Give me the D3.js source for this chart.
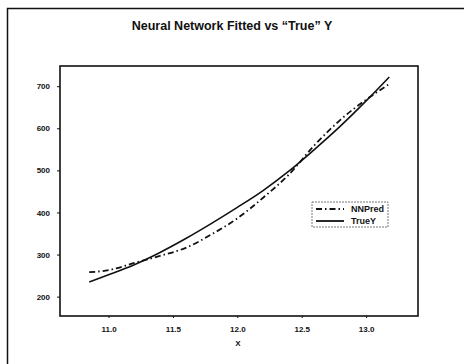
<!DOCTYPE html>
<html>
<head>
<meta charset="utf-8">
<script src="https://cdn.jsdelivr.net/npm/d3@7"></script>
<style>
  html, body { margin: 0; padding: 0; background: #fff; }
  svg { display: block; font-family: Arial, "Liberation Sans", sans-serif; }
</style>
</head>
<body>
<svg id="chart" width="464" height="364"></svg>
<script>
// Input values along the X axis
const xValues   = [10.85, 11.0, 11.2, 11.4, 11.6, 11.8, 12.0, 12.2, 12.4, 12.6, 12.8, 13.0, 13.18];
// Network prediction and the true response at each X
const nnPred    = [258, 263, 280, 297, 316, 348, 386, 435, 490, 560, 620, 668, 705];
const trueY     = [235, 252, 276, 305, 338, 374, 412, 452, 498, 550, 605, 665, 722];
// Axis tick values
const xTicks    = [11.0, 11.5, 12.0, 12.5, 13.0];
const yTicks    = [200, 300, 400, 500, 600, 700];
const seriesNames = ["NNPred", "TrueY"];

const svg = d3.select("#chart");
const plot = { left: 60, top: 66, right: 418, bottom: 316 };

const x = d3.scaleLinear().domain([10.623, 13.403]).range([plot.left, plot.right]);
const y = d3.scaleLinear().domain([154, 748]).range([plot.bottom, plot.top]);

// Outer page frame (top and left edges)
svg.append("path")
  .attr("d", "M7.5,364 V8.5 H464")
  .attr("fill", "none").attr("stroke", "#111").attr("stroke-width", 1.5);

// Title
svg.append("text")
  .attr("x", 232).attr("y", 30)
  .attr("text-anchor", "middle")
  .attr("font-size", 12.5)
  .attr("font-weight", "bold")
  .attr("fill", "#111")
  .text("Neural Network Fitted vs \u201CTrue\u201D Y");

// Axes
const xAxis = d3.axisBottom(x).tickValues(xTicks).tickFormat(d3.format(".1f")).tickSize(2).tickPadding(8);
const yAxis = d3.axisLeft(y).tickValues(yTicks).tickFormat(d3.format("d")).tickSize(3).tickPadding(7);

const gx = svg.append("g").attr("transform", `translate(0,${plot.bottom})`).call(xAxis);
const gy = svg.append("g").attr("transform", `translate(${plot.left},0)`).call(yAxis);
[gx, gy].forEach(g => {
  g.select(".domain").remove();
  g.selectAll("line").attr("stroke", "#111").attr("stroke-width", 1);
  g.selectAll("text").attr("font-size", 8).attr("font-weight", "bold").attr("fill", "#111");
});

// Plot frame
svg.append("rect")
  .attr("x", plot.left).attr("y", plot.top)
  .attr("width", plot.right - plot.left).attr("height", plot.bottom - plot.top)
  .attr("fill", "none").attr("stroke", "#111").attr("stroke-width", 1.6);

// X axis title
svg.append("text")
  .attr("x", 238).attr("y", 346)
  .attr("text-anchor", "middle")
  .attr("font-size", 8).attr("font-weight", "bold").attr("fill", "#111")
  .text("X");

// Series lines
const line = vals => d3.line()
  .x((d, i) => x(xValues[i]))
  .y(d => y(d))
  .curve(d3.curveMonotoneX)(vals);

svg.append("path")
  .attr("d", line(trueY))
  .attr("fill", "none").attr("stroke", "#111").attr("stroke-width", 1.6);

svg.append("path")
  .attr("d", line(nnPred))
  .attr("fill", "none").attr("stroke", "#111").attr("stroke-width", 1.8)
  .attr("stroke-dasharray", "6,3,1.5,3");

// Legend
const lg = svg.append("g");
lg.append("rect")
  .attr("x", 312).attr("y", 202).attr("width", 76).attr("height", 25)
  .attr("fill", "#fff").attr("stroke", "#555").attr("stroke-width", 0.8)
  .attr("stroke-dasharray", "2,1");
const dashes = ["6,3,1.5,3", null];
seriesNames.forEach((name, i) => {
  const yy = 209 + i * 12;
  lg.append("line")
    .attr("x1", 316).attr("x2", 344).attr("y1", yy).attr("y2", yy)
    .attr("stroke", "#111").attr("stroke-width", 1.8)
    .attr("stroke-dasharray", dashes[i]);
  lg.append("text")
    .attr("x", 351).attr("y", yy + 3)
    .attr("font-size", 9).attr("font-weight", "bold").attr("fill", "#111")
    .text(name);
});
</script>
</body>
</html>
